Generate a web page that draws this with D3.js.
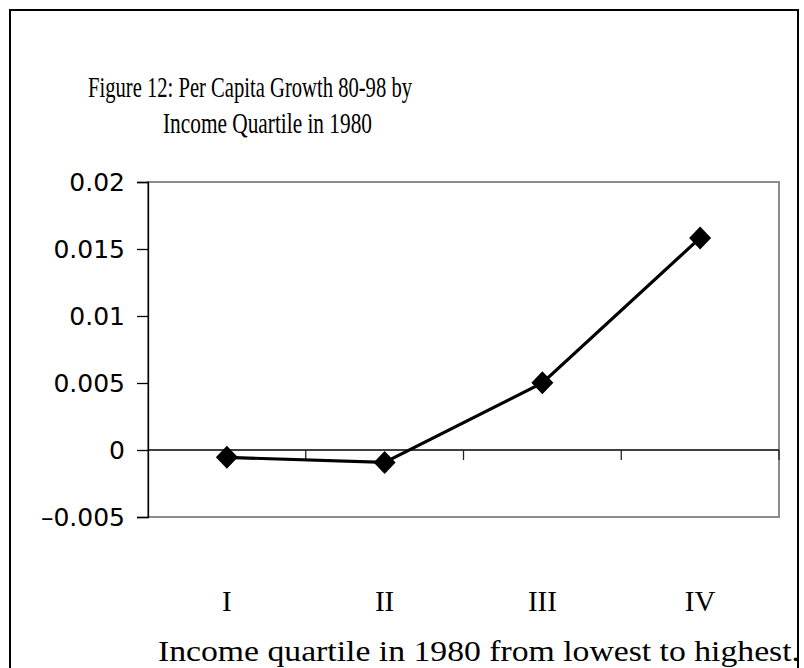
<!DOCTYPE html>
<html>
<head>
<meta charset="utf-8">
<script src="https://cdn.jsdelivr.net/npm/d3@7"></script>
<style>
  html, body { margin: 0; padding: 0; background: #fff; }
  svg { display: block; }
</style>
</head>
<body>
<svg id="chart" width="804" height="668"></svg>
<script>
const categories = ["I", "II", "III", "IV"];
const growthValues = [-0.00055, -0.00093, 0.00501, 0.01583];
const yTickValues = [-0.005, 0, 0.005, 0.01, 0.015, 0.02];
const yTickLabels = ["\u20130.005", "0", "0.005", "0.01", "0.015", "0.02"];
const titleLines = ["Figure 12: Per Capita Growth 80-98 by", "Income Quartile in 1980"];
const xAxisTitle = "Income quartile in 1980 from  lowest to highest.";

const svg = d3.select("#chart");
const plot = { left: 148, right: 779, top: 182, bottom: 517 };

const x = d3.scaleBand().domain(categories).range([plot.left, plot.right]);
const y = d3.scaleLinear().domain([-0.005, 0.02]).range([plot.bottom, plot.top]);

const serif = "'Liberation Serif', 'Times New Roman', serif";
const sans = "'DejaVu Sans', sans-serif";

// outer frame
svg.append("rect").attr("x", 10).attr("y", 10).attr("width", 788).attr("height", 680)
  .attr("fill", "none").attr("stroke", "#000").attr("stroke-width", 2);

// title
svg.append("text").attr("x", 88).attr("y", 97).attr("font-family", serif).attr("font-size", 30)
  .attr("textLength", 324).attr("lengthAdjust", "spacingAndGlyphs").text(titleLines[0]);
svg.append("text").attr("x", 163).attr("y", 133).attr("font-family", serif).attr("font-size", 30)
  .attr("textLength", 209).attr("lengthAdjust", "spacingAndGlyphs").text(titleLines[1]);

// plot frame (gray)
svg.append("rect").attr("x", plot.left).attr("y", plot.top)
  .attr("width", plot.right - plot.left).attr("height", plot.bottom - plot.top)
  .attr("fill", "none").attr("stroke", "#8c8c8c").attr("stroke-width", 2);

// y axis
const yAxis = d3.axisLeft(y).tickValues(yTickValues).tickSize(11).tickPadding(12)
  .tickFormat((d, i) => yTickLabels[i]);
const gy = svg.append("g").attr("transform", `translate(${plot.left},0)`).call(yAxis);
gy.select(".domain").attr("stroke", "#000").attr("stroke-width", 1.3);
gy.selectAll(".tick line").attr("stroke", "#000").attr("stroke-width", 1.3);
gy.selectAll(".tick text").attr("font-family", sans).attr("font-size", 25).attr("fill", "#000");

// zero line axis with category boundary ticks
svg.append("line").attr("x1", plot.left).attr("x2", plot.right)
  .attr("y1", y(0)).attr("y2", y(0)).attr("stroke", "#000").attr("stroke-width", 1.3);
const boundaries = categories.map(c => x(c) + x.bandwidth());
svg.selectAll(".btick").data(boundaries).join("line")
  .attr("x1", d => d).attr("x2", d => d)
  .attr("y1", y(0)).attr("y2", y(0) + 10)
  .attr("stroke", "#222").attr("stroke-width", 1.3);

// category labels
svg.selectAll(".xlab").data(categories).join("text")
  .attr("x", d => x(d) + x.bandwidth() / 2).attr("y", 611)
  .attr("text-anchor", "middle").attr("font-family", serif).attr("font-size", 29)
  .text(d => d);

// x axis title
svg.append("text").attr("x", 158).attr("y", 661).attr("font-family", serif).attr("font-size", 29)
  .attr("textLength", 642).attr("lengthAdjust", "spacingAndGlyphs").text(xAxisTitle);

// line
const pts = categories.map((c, i) => [x(c) + x.bandwidth() / 2, y(growthValues[i])]);
svg.append("path").datum(pts).attr("d", d3.line())
  .attr("fill", "none").attr("stroke", "#000").attr("stroke-width", 3.2);

// markers
svg.selectAll(".mk").data(pts).join("path")
  .attr("transform", d => `translate(${d[0]},${d[1]})`)
  .attr("d", "M0,-11.5L11,0L0,11.5L-11,0Z").attr("fill", "#000");
</script>
</body>
</html>
